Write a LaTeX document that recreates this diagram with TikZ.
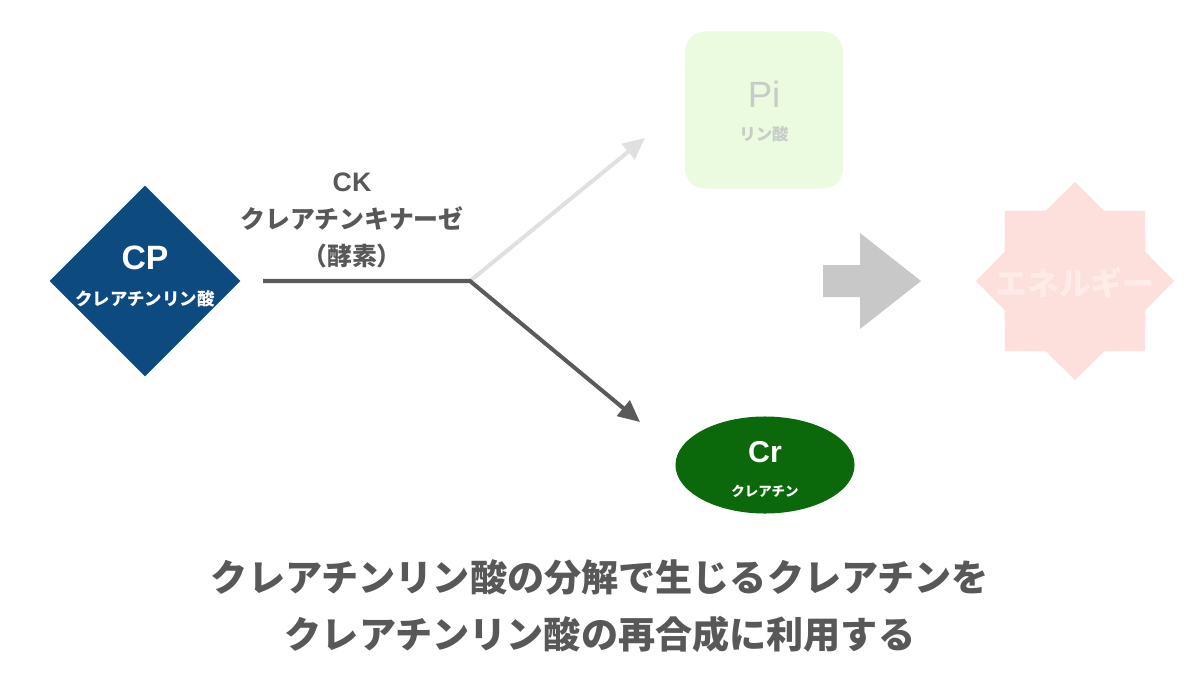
\documentclass[tikz,border=0pt]{standalone}
\usepackage{fontspec}
\setmainfont{Noto Sans CJK JP}
\newfontfamily\latinfont{Liberation Sans}
\usepackage{tikz}
\usetikzlibrary{positioning,arrows.meta,shapes.geometric}
\usepackage{xcolor}
\definecolor{cpblue}{RGB}{12,74,128}
\definecolor{crgreen}{RGB}{11,105,11}
\definecolor{textgray}{RGB}{88,88,88}
\definecolor{pifill}{RGB}{234,251,223}
\definecolor{pitext}{RGB}{200,204,200}
\definecolor{starpink}{RGB}{253,224,220}
\definecolor{startext}{RGB}{255,236,233}
\definecolor{lightline}{RGB}{224,224,224}
\definecolor{darkline}{RGB}{90,90,90}
\definecolor{blockgray}{RGB}{200,200,200}

\begin{document}
\begin{tikzpicture}[x=0.025cm,y=-0.025cm,>={Triangle[length=15.5pt,width=14pt]},
  flow/.style={line width=2.85pt,->},
  fsz/.style={font=\bfseries\fontsize{#1}{#1}\selectfont},
  lsz/.style={font=\latinfont\bfseries\fontsize{#1}{#1}\selectfont}]
\useasboundingbox (0,0) rectangle (1200,675);
% shapes
\node[diamond,fill=cpblue,minimum size=4.775cm,inner sep=0pt] (cp) at (145,281) {};
\node[lsz=24,text=white] (cpsym) at (145,258) {CP};
\node[fsz=12.4,text=white] (cpname) at (145,299) {クレアチンリン酸};
\node[rectangle,rounded corners=0.5cm,fill=pifill,minimum width=3.95cm,minimum height=3.925cm] (pi) at (764,110) {};
\node[font=\latinfont\fontsize{26}{26}\selectfont,text=pitext] (pisym) at (764,94) {Pi};
\node[fsz=11.7,text=pitext] (piname) at (764,134) {リン酸};
\node[ellipse,fill=crgreen,minimum width=4.475cm,minimum height=2.425cm,inner sep=0pt] (cr) at (765,465) {};
\node[lsz=21.5,text=white] (crsym) at (765,452) {Cr};
\node[fsz=9.6,text=white] (crname) at (765,491) {クレアチン};
\node[star,star points=8,star point ratio=1.3,minimum size=4.95cm,inner sep=0pt,fill=starpink] (energy) at (1075,281) {};
\node[fsz=22.7,text=startext] (energyname) at (1075,283) {エネルギー};
\fill[blockgray] (823,265) -- (860,265) -- (860,233) -- (921,281) -- (860,329) -- (860,297) -- (823,297) -- cycle;
% reaction
\coordinate (split) at (470,281);
\coordinate (pitip) at (645,138);
\coordinate (crtip) at (640,422);
\draw[flow,lightline] (split) -- (pitip);
\draw[flow,darkline,shorten <=0.56cm] (cp.east) -- (split) -- (crtip);
\node[text=textgray,align=center,font=\bfseries\fontsize{17.7}{26.3}\selectfont] (ck) at (352,220) {{\latinfont\fontsize{19}{26.3}\selectfont CK}\\クレアチンキナーゼ\\（酵素）};
\node[text=textgray,align=center,font=\bfseries\fontsize{26.4}{40.5}\selectfont] (summary) at (600,606) {クレアチンリン酸の分解で生じるクレアチンを\\クレアチンリン酸の再合成に利用する};
\end{tikzpicture}
\end{document}
